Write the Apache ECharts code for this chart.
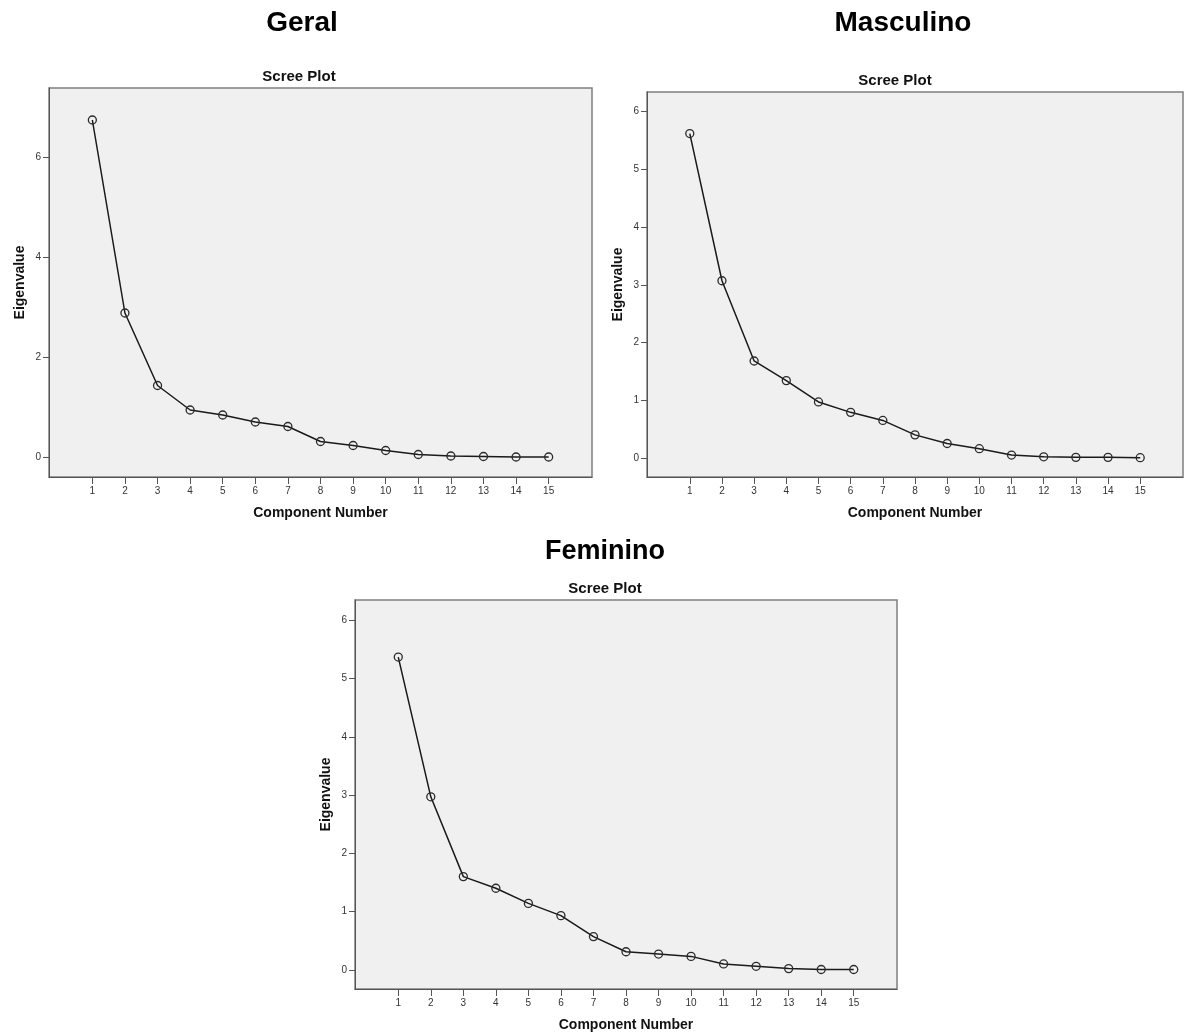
<!DOCTYPE html>
<html>
<head>
<meta charset="utf-8">
<title>Scree Plot</title>
<script src="https://cdn.jsdelivr.net/npm/echarts@6/dist/echarts.min.js"></script>
<style>
	html, body { margin: 0; padding: 0; background: #fff; }
	#chart { width: 1184px; height: 1034px; }
</style>
</head>
<body>
<div id="chart"></div>
<script>
// dados
var components = [1, 2, 3, 4, 5, 6, 7, 8, 9, 10, 11, 12, 13, 14, 15];
var geralValues = [6.75, 2.89, 1.44, 0.95, 0.85, 0.71, 0.62, 0.32, 0.24, 0.14, 0.06, 0.03, 0.02, 0.01, 0.01];
var masculinoValues = [5.62, 3.07, 1.68, 1.34, 0.97, 0.79, 0.65, 0.40, 0.25, 0.16, 0.05, 0.02, 0.01, 0.01, 0.005];
var femininoValues = [5.37, 2.97, 1.60, 1.40, 1.14, 0.93, 0.57, 0.31, 0.27, 0.23, 0.10, 0.06, 0.02, 0.005, 0.005];
var geralTicks = [0, 2, 4, 6];
var sexoTicks = [0, 1, 2, 3, 4, 5, 6];
var panelTitles = ["Geral", "Masculino", "Feminino"];
var plotTitle = "Scree Plot";
var xName = "Component Number";
var yName = "Eigenvalue";

var FONT = '"Liberation Sans", Arial, sans-serif';

function toPoints(values) {
	var pts = [];
	for(var i = 0; i < components.length; i++) {
		pts.push([components[i], values[i]]);
	}
	return pts;
}

function makeX(idx) {
	return {
		type: 'value',
		gridIndex: idx,
		min: -0.33,
		max: 16.33,
		name: xName,
		nameLocation: 'middle',
		nameGap: 29,
		nameTextStyle: { fontFamily: FONT, fontWeight: 'bold', fontSize: 14, color: '#111' },
		splitLine: { show: false },
		axisLine: { show: true, onZero: false, lineStyle: { color: '#555', width: 1 } },
		axisTick: { show: true, length: 7, customValues: components, lineStyle: { color: '#555' } },
		axisLabel: { customValues: components, margin: 9, fontFamily: FONT, fontSize: 10, color: '#333' }
	};
}

function makeY(idx, min, max, ticks) {
	return {
		type: 'value',
		gridIndex: idx,
		min: min,
		max: max,
		name: yName,
		nameLocation: 'middle',
		nameGap: 22,
		nameTextStyle: { fontFamily: FONT, fontWeight: 'bold', fontSize: 14, color: '#111' },
		splitLine: { show: false },
		axisLine: { show: true, onZero: false, lineStyle: { color: '#555', width: 1 } },
		axisTick: { show: true, length: 6, customValues: ticks, lineStyle: { color: '#555' } },
		axisLabel: { customValues: ticks, margin: 8, fontFamily: FONT, fontSize: 10, color: '#333' }
	};
}

function makeSeries(idx, values) {
	return {
		type: 'line',
		xAxisIndex: idx,
		yAxisIndex: idx,
		data: toPoints(values),
		symbol: 'circle',
		symbolSize: 8,
		showAllSymbol: true,
		lineStyle: { color: '#1a1a1a', width: 1.5 },
		itemStyle: { color: 'rgba(0,0,0,0)', borderColor: '#2a2a2a', borderWidth: 1.3 },
		silent: true,
		animation: false,
		z: 3
	};
}

var gridStyle = { show: true, backgroundColor: '#f0f0f0', borderColor: '#7f7f7f', borderWidth: 1.5 };

var chart = echarts.init(document.getElementById('chart'), null, { renderer: 'canvas' });
var option = {
	animation: false,
	backgroundColor: '#fff',
	title: [
		{ text: panelTitles[0], left: 302, top: 9, textAlign: 'center', padding: 0, textStyle: { fontFamily: FONT, fontWeight: 'bold', fontSize: 28, color: '#000' } },
		{ text: panelTitles[1], left: 903, top: 9, textAlign: 'center', padding: 0, textStyle: { fontFamily: FONT, fontWeight: 'bold', fontSize: 28, color: '#000' } },
		{ text: panelTitles[2], left: 605, top: 538, textAlign: 'center', padding: 0, textStyle: { fontFamily: FONT, fontWeight: 'bold', fontSize: 27, color: '#000' } },
		{ text: plotTitle, left: 299, top: 69, textAlign: 'center', padding: 0, textStyle: { fontFamily: FONT, fontWeight: 'bold', fontSize: 15, color: '#111' } },
		{ text: plotTitle, left: 895, top: 73, textAlign: 'center', padding: 0, textStyle: { fontFamily: FONT, fontWeight: 'bold', fontSize: 15, color: '#111' } },
		{ text: plotTitle, left: 605, top: 581, textAlign: 'center', padding: 0, textStyle: { fontFamily: FONT, fontWeight: 'bold', fontSize: 15, color: '#111' } }
	],
	grid: [
		Object.assign({ left: 49, top: 88, width: 543, height: 389 }, gridStyle),
		Object.assign({ left: 647, top: 92, width: 536, height: 385 }, gridStyle),
		Object.assign({ left: 355, top: 600, width: 542, height: 389 }, gridStyle)
	],
	xAxis: [makeX(0), makeX(1), makeX(2)],
	yAxis: [
		makeY(0, -0.39, 7.39, geralTicks),
		makeY(1, -0.33, 6.34, sexoTicks),
		makeY(2, -0.33, 6.35, sexoTicks)
	],
	series: [
		makeSeries(0, geralValues),
		makeSeries(1, masculinoValues),
		makeSeries(2, femininoValues)
	]
};
chart.setOption(option);
</script>
</body>
</html>
